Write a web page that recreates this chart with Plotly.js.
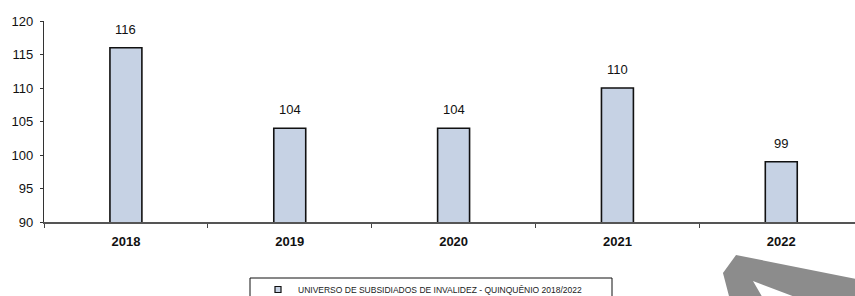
<!DOCTYPE html>
<html>
<head>
<meta charset="utf-8">
<script src="https://cdn.plot.ly/plotly-3.0.1.min.js"></script>
<style>html,body{margin:0;padding:0;background:#fff;}#chart{width:855px;height:296px;}</style>
</head>
<body>
<div id="chart"></div>
<script>
const years = ["2018", "2019", "2020", "2021", "2022"];
const values = [116, 104, 104, 110, 99];
const seriesName = "UNIVERSO DE SUBSIDIADOS DE INVALIDEZ - QUINQUÊNIO 2018/2022";
const yTicks = [90, 95, 100, 105, 110, 115, 120];

const barColor = "#c6d2e4";
const trace = {
  type: "bar",
  x: years,
  y: values,
  name: seriesName,
  width: 0.195,
  marker: {color: barColor, line: {color: "#111", width: 1.6}},
  showlegend: false,
  hoverinfo: "none"
};
// legend entry for the same series, with a small square symbol like the reference
const legendTrace = {
  type: "scatter", mode: "markers",
  x: [null], y: [null],
  name: seriesName,
  marker: {symbol: "square", size: 6, color: barColor, line: {color: "#111", width: 1.2}},
  showlegend: true, hoverinfo: "none"
};

const annotations = years.map((yr, i) => ({
  x: i, y: values[i], xref: "x", yref: "y",
  text: String(values[i]), showarrow: false,
  yanchor: "bottom", yshift: 9,
  font: {family: "Liberation Sans Narrow, Liberation Sans, Arial", size: 13, color: "#111"}
}));

const L = 44, W = 811, B = 222, H = 201;
const P = (px, py) => [((px - L) / W).toFixed(4), ((B - py) / H).toFixed(4)].join(",");
const arrowPath = "M" + P(736,255) + " L" + P(856,279) + " L" + P(856,300) + " L" + P(730,300) + " L" + P(723,273) + " Z " +
                  "M" + P(753,281) + " L" + P(764,300) + " L" + P(803,300) + " Z";

const layout = {
  width: 855, height: 296,
  margin: {l: L, r: 0, t: 21, b: 74, autoexpand: false},
  paper_bgcolor: "#fff", plot_bgcolor: "#fff",
  showlegend: true,
  xaxis: {
    type: "category", range: [-0.5, 4.45], automargin: false,
    showline: true, linecolor: "#555", linewidth: 1.5,
    ticks: "outside", tickson: "boundaries", ticklen: 4, tickcolor: "#444",
    showgrid: false, zeroline: false, ticklabelstandoff: 7,
    tickfont: {family: "Liberation Sans Narrow, Liberation Sans, Arial", size: 13, color: "#111", weight: "bold"}
  },
  yaxis: {
    range: [90, 120], tickvals: yTicks, ticktext: yTicks.map(String), automargin: false,
    showline: true, linecolor: "#333", linewidth: 1.2,
    ticks: "outside", ticklen: 3, tickcolor: "#333",
    showgrid: false, zeroline: false, ticklabelstandoff: 4,
    tickfont: {family: "Liberation Sans Narrow, Liberation Sans, Arial", size: 13, color: "#111"}
  },
  legend: {
    x: (258 - L) / W, xanchor: "left",
    y: (B - 275) / H, yanchor: "top",
    borderwidth: 0, bgcolor: "rgba(0,0,0,0)",
    font: {family: "Liberation Sans, Arial", size: 8.5, color: "#1a1a1a"}
  },
  annotations: annotations,
  shapes: [
    {type: "rect", xref: "paper", yref: "paper",
     x0: (250 - L) / W, x1: (612 - L) / W, y0: (B - 278) / H, y1: (B - 302) / H,
     line: {color: "#111", width: 1}, fillcolor: "rgba(0,0,0,0)", layer: "above"},
    {type: "path", xref: "paper", yref: "paper", path: arrowPath,
     fillcolor: "#8c8c8c", fillrule: "evenodd", line: {width: 0}, layer: "above"}
  ]
};

Plotly.newPlot("chart", [trace, legendTrace], layout, {staticPlot: true, displayModeBar: false});
</script>
</body>
</html>
